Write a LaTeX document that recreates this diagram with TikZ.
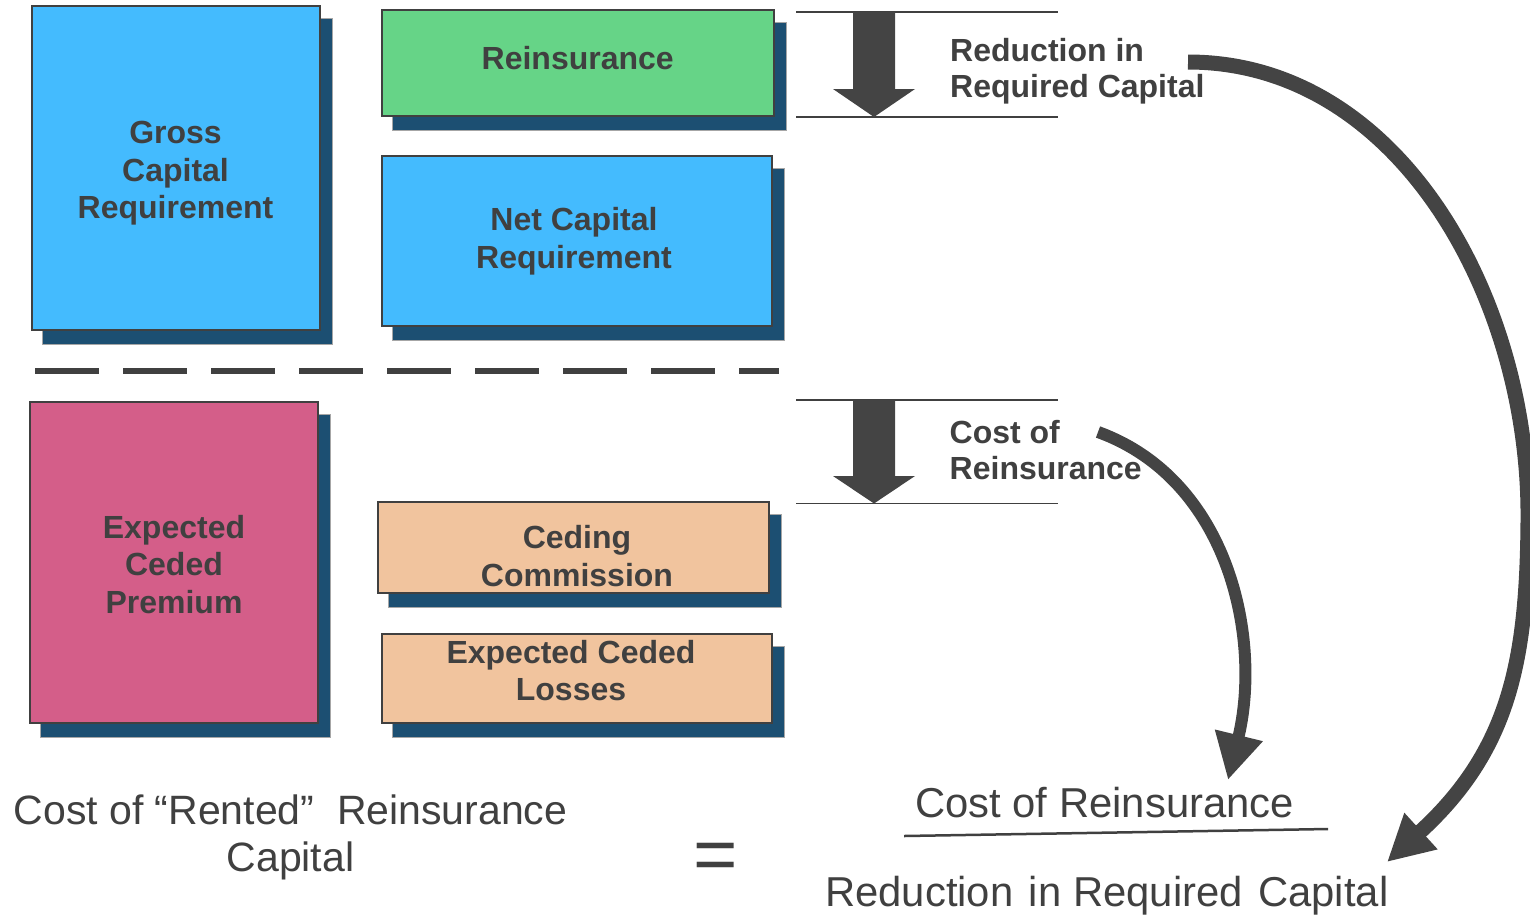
\documentclass[tikz,border=0pt]{standalone}
\usepackage{fontspec}
\setmainfont{Liberation Sans}
\usetikzlibrary{arrows.meta,calc}
\pgfdeclarelayer{background}
\pgfsetlayers{background,main}

\definecolor{ink}{HTML}{404040}
\definecolor{arrowgray}{HTML}{444444}
\definecolor{capblue}{HTML}{44BBFE}
\definecolor{reingreen}{HTML}{66D487}
\definecolor{premiumpink}{HTML}{D45E89}
\definecolor{peach}{HTML}{F1C49E}
\definecolor{shadowblue}{HTML}{1C4F72}

\begin{document}
\begin{tikzpicture}[x=1pt,y=-1pt,
  box/.style={draw=ink, line width=2pt, rectangle, inner sep=0pt, outer sep=0pt, anchor=north west},
  dropshadow/.style={fill=shadowblue, draw=gray!70, line width=0.8pt},
  boxtext/.style={text=ink, font=\bfseries\fontsize{32}{37.5}\selectfont, align=center, inner sep=0pt},
  sidetext/.style={text=ink, font=\bfseries\fontsize{32}{36}\selectfont, align=left, inner sep=0pt, anchor=north west},
  bigtext/.style={text=ink, font=\fontsize{41}{46.5}\selectfont, inner sep=0pt},
  ratiotext/.style={text=ink, font=\fontsize{41.8}{46}\selectfont, inner sep=0pt, anchor=base west},
  rule/.style={draw=ink, line width=1.5pt},
  blockarrow/.style={fill=arrowgray},
  curved/.style={draw=arrowgray, line cap=butt, -{Triangle[length=46pt,width=46pt]}},
]
\useasboundingbox (0,0) rectangle (1530,914);

% ---- capital boxes (upper half)
\node[box, fill=capblue, minimum width=288pt, minimum height=324pt] (gross) at (32,6) {};
\node[box, fill=reingreen, minimum width=392pt, minimum height=106pt] (rein) at (382,10) {};
\node[box, fill=capblue, minimum width=390pt, minimum height=170pt] (net) at (382,156) {};

% ---- premium boxes (lower half)
\node[box, fill=premiumpink, minimum width=288pt, minimum height=321pt] (premium) at (30,402) {};
\node[box, fill=peach, minimum width=391pt, minimum height=91pt] (ceding) at (378,502) {};
\node[box, fill=peach, minimum width=390pt, minimum height=89pt] (losses) at (382,634) {};

% ---- drop shadows behind every box
\begin{pgfonlayer}{background}
  \foreach \b in {gross,rein,net,premium,ceding,losses}
    \draw[dropshadow] ($(\b.north west)+(10,12)$) rectangle ($(\b.south east)+(12,14)$);
\end{pgfonlayer}

% ---- box captions
\node[boxtext] (grosstext) at (175.5,173.5) {Gross\\Capital\\Requirement};
\node[boxtext] (reintext) at (577.7,58) {Reinsurance};
\node[boxtext] (nettext) at (574,241) {Net Capital\\Requirement};
\node[boxtext] (premiumtext) at (174,564.5) {Expected\\Ceded\\Premium};
\node[boxtext] (cedingtext) at (577,555.8) {Ceding\\Commission};
\node[boxtext] (lossestext) at (571,670.5) {Expected Ceded\\Losses};

% ---- divider between the two halves
\draw[ink, line width=6pt, dash pattern=on 64pt off 24pt] (35,371) -- (779,371);

% ---- reduction in required capital
\draw[rule] (796,12) -- (1058,12);
\draw[rule] (796,117) -- (1058,117);
\fill[blockarrow] (853,12) -- (895,12) -- (895,89) -- (915,89) -- (874,117)
  -- (833,89) -- (853,89) -- cycle;
\node[sidetext] (redlabel) at (950,38.5) {Reduction in\\Required Capital};

% ---- cost of reinsurance
\draw[rule] (796,400) -- (1058,400);
\draw[rule] (796,503.5) -- (1058,503.5);
\fill[blockarrow] (853,400) -- (895,400) -- (895,476) -- (915,476) -- (874,503.5)
  -- (833,476) -- (853,476) -- cycle;
\node[sidetext] (costlabel) at (949.5,420) {Cost of\\Reinsurance};

% ---- the resulting ratio
\node[bigtext, align=center] (rented) at (290.5,837.5) {Cost of “Rented”~ Reinsurance\\Capital};
\node[text=ink, font=\fontsize{76}{80}\selectfont, inner sep=0pt, anchor=base] (equals) at (715.5,880) {=};
\node[ratiotext] (numer) at (915,817.7) {Cost of Reinsurance};
\node[ratiotext] (denom) at (825,906.7) {Reduction\hspace{4pt} in Required\hspace{4pt} Capital};
\draw[ink, line width=2.5pt] (904,836) -- (1328,829);

% ---- curved connectors into the ratio
\coordinate (bigfrom) at (1188,62);
\coordinate (bigto) at (1387,862);
\draw[curved, line width=15pt] (bigfrom) .. controls (1400,62) and (1530,300) .. (1528,520)
  .. controls (1527,660) and (1510,750) .. (bigto);

\coordinate (smallfrom) at (1098,432);
\coordinate (smallto) at (1228,780);
\draw[curved, line width=12pt] (smallfrom) .. controls (1230,480) and (1262,640) .. (smallto);
\end{tikzpicture}
\end{document}
